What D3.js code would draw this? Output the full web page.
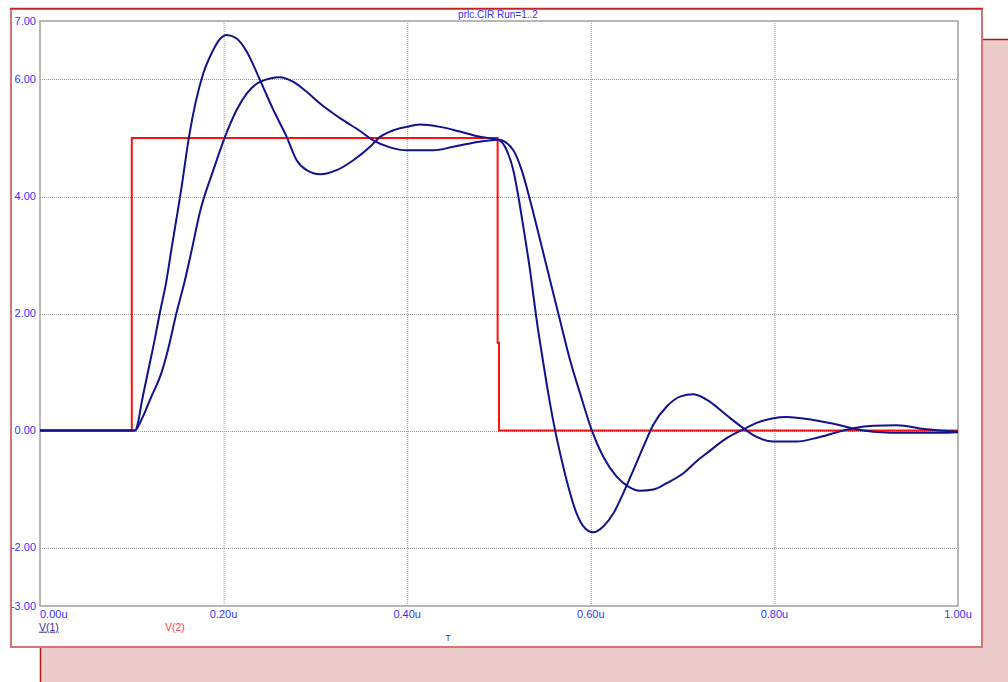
<!DOCTYPE html>
<html lang="en">
<head>
<meta charset="UTF-8">
<title>prlc.CIR Run=1..2</title>
<script src="https://cdn.jsdelivr.net/npm/d3@7/dist/d3.min.js"></script>
<style>
  body { margin: 0; background: #fff; }
  text { font-family: "Liberation Sans", Arial, sans-serif; }
</style>
</head>
<body>
<script>
// time in microseconds
var tRun1 = [0, 0.1035, 0.107, 0.1104, 0.1176, 0.1249, 0.1304, 0.1376, 0.1431, 0.1543, 0.1623, 0.178, 0.187,
  0.1965, 0.2033, 0.2142, 0.2251, 0.2397, 0.2542, 0.2687, 0.2796, 0.2905, 0.305, 0.3232, 0.3413, 0.3595,
  0.3704, 0.3813, 0.3994, 0.4139, 0.4357, 0.4575, 0.4793, 0.4993, 0.5084, 0.5156, 0.5211, 0.5265, 0.5338,
  0.541, 0.5483, 0.5556, 0.561, 0.5682, 0.5755, 0.5846, 0.5937, 0.6027, 0.6136, 0.6245, 0.6354, 0.6463,
  0.6572, 0.6681, 0.6827, 0.6972, 0.7117, 0.7298, 0.748, 0.7661, 0.7807, 0.7988, 0.8243, 0.8497, 0.886,
  0.9078, 0.9332, 0.9659, 1.0];
var vRun1 = [0, 0, 0.15, 0.45, 1.0, 1.55, 2.0, 2.55, 3.09, 4.17, 5.02, 6.11, 6.45,
  6.7, 6.76, 6.7, 6.48, 5.99, 5.48, 5.02, 4.62, 4.45, 4.38, 4.45, 4.62, 4.85,
  5.02, 5.11, 5.19, 5.23, 5.19, 5.11, 5.02, 4.97, 4.79, 4.45, 4.0, 3.48, 2.74,
  1.89, 1.15, 0.46, 0.01, -0.5, -0.96, -1.42, -1.67, -1.74, -1.64, -1.42, -1.07, -0.68,
  -0.28, 0.1, 0.41, 0.58, 0.62, 0.49, 0.26, 0.04, -0.11, -0.19, -0.19, -0.11, 0.04,
  0.08, 0.09, 0.02, -0.02];

var tRun2 = [0, 0.1035, 0.1104, 0.1213, 0.1322, 0.1394, 0.1485, 0.1576, 0.1648, 0.1743, 0.1888, 0.2015,
  0.2142, 0.2251, 0.2397, 0.2614, 0.276, 0.2905, 0.305, 0.3268, 0.3486, 0.3631, 0.3813, 0.3994, 0.4285,
  0.4502, 0.472, 0.4993, 0.5156, 0.5247, 0.5338, 0.5447, 0.5556, 0.5664, 0.5773, 0.5882, 0.6009, 0.6136,
  0.6282, 0.6409, 0.6536, 0.6681, 0.6827, 0.7008, 0.7171, 0.7262, 0.748, 0.7661, 0.7807, 0.7988, 0.8129,
  0.8424, 0.8715, 0.8896, 0.9078, 0.944, 0.9804, 1.0];
var vRun2 = [0, 0, 0.18, 0.58, 0.98, 1.38, 2.0, 2.55, 3.05, 3.74, 4.45, 5.02,
  5.48, 5.76, 5.96, 6.04, 5.96, 5.79, 5.59, 5.34, 5.12, 4.96, 4.84, 4.79, 4.79,
  4.85, 4.92, 4.97, 4.79, 4.45, 3.94, 3.26, 2.57, 1.89, 1.21, 0.64, 0.01, -0.45,
  -0.79, -0.96, -1.03, -1.01, -0.9, -0.73, -0.5, -0.39, -0.13, 0.02, 0.13, 0.21, 0.23,
  0.18, 0.09, 0.02, -0.02, -0.04, -0.04, -0.03];

// V(2) source pulse
var tPulse = [0, 0.1, 0.1, 0.4985, 0.4985, 0.5, 0.5, 1.0];
var vPulse = [0, 0, 5, 5, 1.5, 1.5, 0, 0];

var yTicks = [7, 6, 4, 2, 0, -2, -3];
var yGrid = [6, 4, 2, 0, -2];
var xTicks = [0, 0.2, 0.4, 0.6, 0.8, 1.0];
var xGrid = [0.2, 0.4, 0.6, 0.8];

var W = 1008, H = 682;
var plot = { left: 40, top: 21, right: 958, bottom: 606 };

var svg = d3.select("body").append("svg").attr("width", W).attr("height", H);

// pink panel behind
svg.append("rect").attr("x", 40).attr("y", 39).attr("width", W - 40).attr("height", H - 39)
  .attr("fill", "#edcbcb");
svg.append("line").attr("x1", 982).attr("x2", W).attr("y1", 39.5).attr("y2", 39.5)
  .attr("stroke", "#b01818").attr("stroke-width", 1.5);
svg.append("line").attr("x1", 40.5).attr("x2", 40.5).attr("y1", 647).attr("y2", H)
  .attr("stroke", "#b01818").attr("stroke-width", 1.5);

// white window
svg.append("rect").attr("x", 11).attr("y", 9).attr("width", 971).attr("height", 638)
  .attr("fill", "#fff").attr("stroke", "#d67474").attr("stroke-width", 2);
svg.append("line").attr("x1", 10).attr("x2", 983).attr("y1", 8.5).attr("y2", 8.5)
  .attr("stroke", "#c82020").attr("stroke-width", 1.5);

var x = d3.scaleLinear().domain([0, 1]).range([plot.left, plot.right]);
var y = d3.scaleLinear().domain([-3, 7]).range([plot.bottom, plot.top]);
var fmt = function(d) { return d3.format(".2f")(d).replace("\u2212", "-"); };

// grid
svg.append("g").selectAll("line").data(xGrid).enter().append("line")
  .attr("x1", function(d) { return x(d) + 0.5; }).attr("x2", function(d) { return x(d) + 0.5; })
  .attr("y1", plot.top).attr("y2", plot.bottom)
  .attr("stroke", "#999").attr("stroke-dasharray", "1,1");
svg.append("g").selectAll("line").data(yGrid).enter().append("line")
  .attr("y1", function(d) { return Math.round(y(d)) + 0.5; }).attr("y2", function(d) { return Math.round(y(d)) + 0.5; })
  .attr("x1", plot.left).attr("x2", plot.right)
  .attr("stroke", "#999").attr("stroke-dasharray", "1,1");

// frame
svg.append("rect").attr("x", plot.left).attr("y", plot.top)
  .attr("width", plot.right - plot.left).attr("height", plot.bottom - plot.top)
  .attr("fill", "none").attr("stroke", "#a0a0a0").attr("stroke-width", 1.5);

// y tick labels
svg.append("g").selectAll("text").data(yTicks).enter().append("text")
  .attr("x", 36).attr("y", function(d) { return y(d); })
  .attr("dy", "0.35em").attr("text-anchor", "end")
  .attr("font-size", 11).attr("fill", "#3232ff")
  .text(fmt);

// x tick labels
svg.append("g").selectAll("text").data(xTicks).enter().append("text")
  .attr("x", function(d) { return x(d); }).attr("y", 614)
  .attr("dy", "0.35em")
  .attr("text-anchor", function(d, i) { return i == 0 ? "start" : "middle"; })
  .attr("font-size", 11).attr("fill", "#3232ff")
  .text(function(d) { return fmt(d) + "u"; });

// title and labels
svg.append("text").attr("x", 498).attr("y", 14).attr("dy", "0.35em").attr("text-anchor", "middle")
  .attr("font-size", 10).attr("fill", "#3232ff").text("prlc.CIR Run=1..2");
svg.append("text").attr("x", 448).attr("y", 638).attr("dy", "0.35em").attr("text-anchor", "middle")
  .attr("font-size", 9).attr("fill", "#3232ff").text("T");
svg.append("text").attr("x", 39).attr("y", 627).attr("dy", "0.35em")
  .attr("font-size", 10.5).attr("fill", "#303090").attr("text-decoration", "underline").text("V(1)");
svg.append("text").attr("x", 165).attr("y", 627).attr("dy", "0.35em")
  .attr("font-size", 10.5).attr("fill", "#ff4040").text("V(2)");

// traces
svg.append("clipPath").attr("id", "clip").append("rect")
  .attr("x", plot.left).attr("y", plot.top)
  .attr("width", plot.right - plot.left).attr("height", plot.bottom - plot.top);

var smooth = d3.line()
  .x(function(d) { return x(d[0]); })
  .y(function(d) { return y(d[1]); })
  .curve(d3.curveMonotoneX);
var straight = d3.line()
  .x(function(d) { return x(d[0]); })
  .y(function(d) { return y(d[1]); });

var traces = svg.append("g").attr("clip-path", "url(#clip)");
traces.append("path").datum(d3.zip(tPulse, vPulse)).attr("d", straight)
  .attr("fill", "none").attr("stroke", "#ff1010").attr("stroke-width", 2);
traces.append("path").datum(d3.zip(tRun2, vRun2)).attr("d", smooth)
  .attr("fill", "none").attr("stroke", "#12128a").attr("stroke-width", 2);
traces.append("path").datum(d3.zip(tRun1, vRun1)).attr("d", smooth)
  .attr("fill", "none").attr("stroke", "#12128a").attr("stroke-width", 2);
</script>
</body>
</html>
